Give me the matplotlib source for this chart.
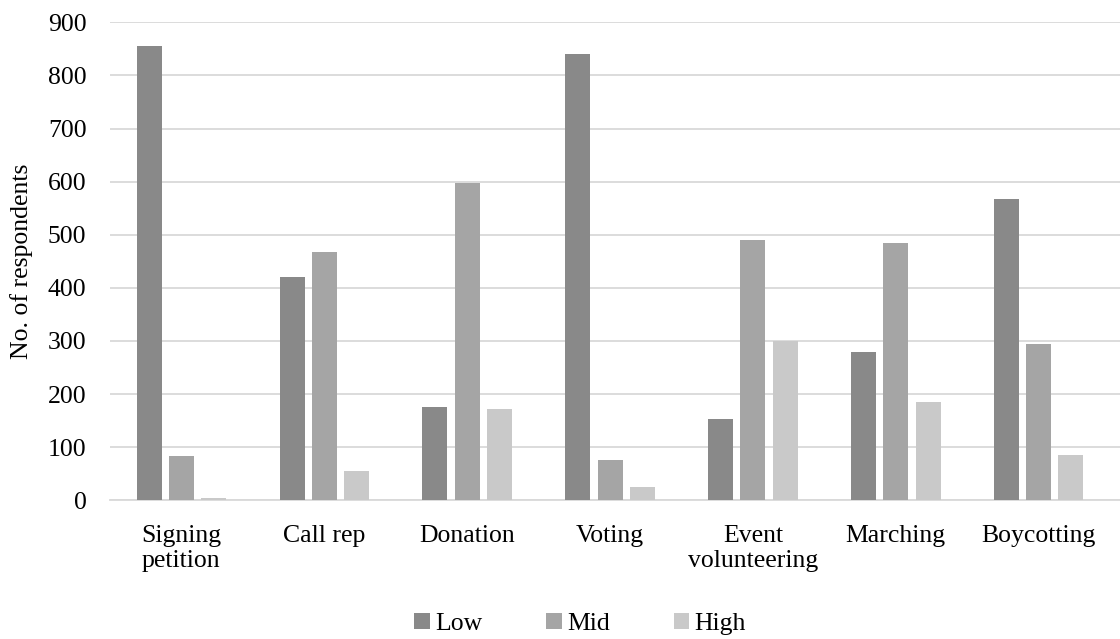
import numpy as np
import matplotlib
matplotlib.use("Agg")
import matplotlib.pyplot as plt

categories = ["Signing\npetition", "Call rep", "Donation", "Voting",
              "Event\nvolunteering", "Marching", "Boycotting"]
low = [855, 420, 175, 840, 153, 279, 567]
mid = [83, 467, 598, 75, 491, 484, 294]
high = [4, 55, 172, 25, 300, 185, 85]
series = ["Low", "Mid", "High"]
colors = ["#898989", "#a5a5a5", "#c9c9c9"]

plt.rcParams["font.family"] = ["Liberation Serif", "DejaVu Serif"]
plt.rcParams["font.size"] = 18.5

fig = plt.figure(figsize=(11.2, 6.39), dpi=100)
ax = fig.add_axes([110 / 1120, 1 - 500.3 / 639, 1010 / 1120, (500.3 - 22.3) / 639])

x = np.arange(len(categories))
w = 0.175
step = 0.226
for i, (vals, name, c) in enumerate(zip([low, mid, high], series, colors)):
    ax.bar(x + (i - 1) * step, vals, width=w, color=c, label=name, zorder=3)

ax.set_xlim(-0.5, 6.57)
ax.set_ylim(0, 900)
ax.set_yticks(range(0, 901, 100))
ax.set_xticks(x)
ax.set_xticklabels(categories, linespacing=1.15)
ax.yaxis.grid(True, color="#d9d9d9", linewidth=1.3, zorder=0)
ax.set_axisbelow(True)
for s in ["top", "right", "left"]:
    ax.spines[s].set_visible(False)
ax.spines["bottom"].set_color("#d9d9d9")
ax.spines["bottom"].set_linewidth(1.3)
ax.tick_params(axis="both", length=0, colors="black")
ax.tick_params(axis="y", pad=17)
ax.tick_params(axis="x", pad=18)

fig.text(22 / 1120, 1 - 261 / 639, "No. of respondents", rotation=90,
         ha="center", va="center")

fig.legend(loc="lower center", bbox_to_anchor=(0.518, -0.03), ncol=3, frameon=False,
           handlelength=0.6, handleheight=0.6, handletextpad=0.2, columnspacing=2.5)

fig.savefig("out.png", dpi=100, facecolor="white")
